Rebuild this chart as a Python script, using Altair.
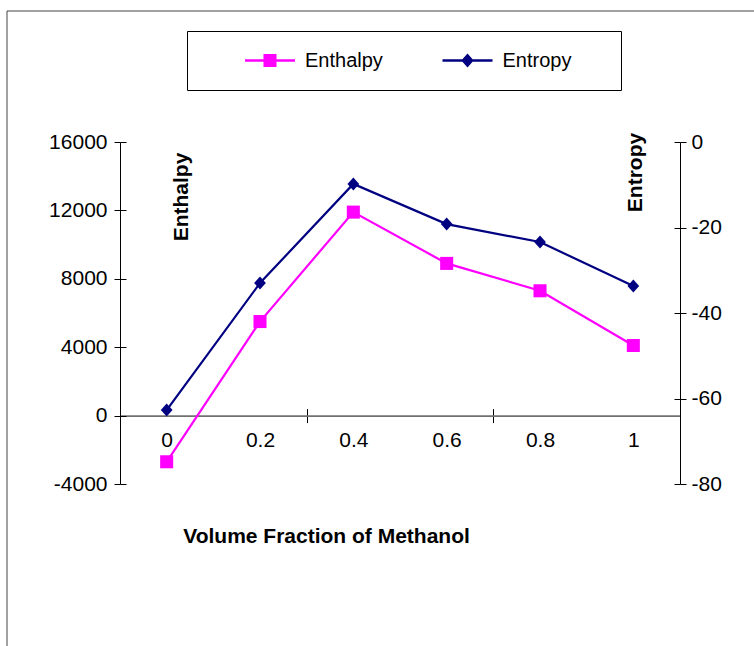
import altair as alt
import pandas as pd

# ---- data ----
fractions = [0, 0.2, 0.4, 0.6, 0.8, 1]
enthalpy = [-2700, 5500, 11900, 8900, 7300, 4100]
entropy = [-62.7, -33.0, -9.8, -19.2, -23.4, -33.7]
series = ["Enthalpy", "Entropy"]
colors = ["#FF00FF", "#000080"]
enthalpy_ticks = [-4000, 0, 4000, 8000, 12000, 16000]
entropy_ticks = [-80, -60, -40, -20, 0]
x_values = [0, 0.2, 0.3, 0.4, 0.6, 0.7, 0.8, 1]

df = pd.DataFrame({"fraction": fractions, "Enthalpy": enthalpy, "Entropy": entropy})
series_df = pd.DataFrame({"series": series})
one = pd.DataFrame({"k": [0]})

FONT = "Liberation Sans"
W, H = 560, 342
zero_offset = -(H - H * 16000 / 20000)

boundary = "datum.value == 0.3 || datum.value == 0.7"
x_scale = alt.Scale(domain=[-0.1, 1.1], nice=False, zero=False)
tick_op = {"condition": {"test": boundary, "value": 1}, "value": 0}

x_axis = alt.Axis(
    orient="bottom", offset=zero_offset, values=x_values, grid=False,
    labelExpr=f"{boundary} ? '' : toString(datum.value)",
    tickOpacity=tick_op, tickSize=7, labelPadding=7, labelFontSize=21,
    domainColor="#707070", domainWidth=1.6,
    title="Volume Fraction of Methanol", titleX=206, titleY=121,
    titleAlign="center", titleBaseline="middle", titleAngle=0,
)
x_axis_inner = alt.Axis(
    orient="bottom", offset=zero_offset - 7, values=x_values, grid=False,
    labels=False, domain=False, tickOpacity=tick_op, tickSize=7, title=None,
)
x_enc = alt.X("fraction:Q", scale=x_scale, axis=x_axis)
x_plain = alt.X("fraction:Q", scale=x_scale, axis=None)
x_inner = alt.X("fraction:Q", scale=x_scale, axis=x_axis_inner)

left_scale = alt.Scale(domain=[-4000, 16000], nice=False, zero=False)
right_scale = alt.Scale(domain=[-80, 0], nice=False, zero=False)

y_left = alt.Y(
    "Enthalpy:Q", scale=left_scale,
    axis=alt.Axis(orient="left", values=enthalpy_ticks, grid=False,
                  labelExpr="toString(datum.value)", tickSize=6, labelPadding=7,
                  title="Enthalpy", titleX=61, titleY=54.5, titleAngle=270,
                  titleAlign="center", titleBaseline="middle"),
)
y_left_inner = alt.Y(
    "Enthalpy:Q", scale=left_scale,
    axis=alt.Axis(orient="left", values=enthalpy_ticks, grid=False, labels=False,
                  domain=False, tickSize=6, offset=-6, title=None),
)
y_right = alt.Y(
    "Entropy:Q", scale=right_scale,
    axis=alt.Axis(orient="right", values=entropy_ticks, grid=False,
                  labelExpr="toString(datum.value)", tickSize=6, labelPadding=5,
                  title="Entropy", titleX=-45, titleY=30, titleAngle=270,
                  titleAlign="center", titleBaseline="middle"),
)
y_right_inner = alt.Y(
    "Entropy:Q", scale=right_scale,
    axis=alt.Axis(orient="right", values=entropy_ticks, grid=False, labels=False,
                  domain=False, tickSize=6, offset=-6, title=None),
)

square_path = "M-1,-1L1,-1L1,1L-1,1Z"
diamond_path = "M0,-1L0.9,0L0,1L-0.9,0Z"

left = alt.layer(
    alt.Chart(df).mark_line(color=colors[0], strokeWidth=2.2).encode(x=x_enc, y=y_left),
    alt.Chart(df).mark_point(shape=square_path, filled=True, color=colors[0], size=170, opacity=1).encode(x=x_enc, y=y_left),
)
right = alt.layer(
    alt.Chart(df).mark_line(color=colors[1], strokeWidth=2.2).encode(x=x_plain, y=y_right),
    alt.Chart(df).mark_point(shape=diamond_path, filled=True, color=colors[1], size=170, opacity=1).encode(x=x_plain, y=y_right),
)
# inner halves of the crossing tick marks
ticks_left = alt.Chart(df).mark_point(opacity=0).encode(x=x_inner, y=y_left_inner)
ticks_right = alt.Chart(df).mark_point(opacity=0).encode(x=x_plain, y=y_right_inner)

# legend symbols: a line with the marker on it (unit = 10 px); the leading
# move-to in the second one only widens the legend box on its right side
leg_sq = "M-2.5,-0.12L2.5,-0.12L2.5,0.12L-2.5,0.12Z M-0.65,-0.65L0.65,-0.65L0.65,0.65L-0.65,0.65Z"
leg_di = "M13.4,0 M-2.5,-0.12L2.5,-0.12L2.5,0.12L-2.5,0.12Z M0,-0.7L0.62,0L0,0.7L-0.62,0Z"

legend_def = dict(
    orient="none", legendX=67, legendY=-111, direction="horizontal", title=None,
    padding=19.5, strokeColor="black", fillColor="white",
    symbolSize=400, symbolStrokeWidth=0, symbolOffset=53.5, labelOffset=25,
    columnPadding=20.5, labelFontSize=20, labelFont=FONT, labelColor="black",
)
legend_layer = alt.Chart(series_df).transform_filter("false").mark_point(filled=True, opacity=1, size=400).encode(
    color=alt.Color("series:N",
                    scale=alt.Scale(domain=series, range=colors),
                    legend=alt.Legend(**legend_def)),
    shape=alt.Shape("series:N",
                    scale=alt.Scale(domain=series, range=[leg_sq, leg_di]),
                    legend=alt.Legend(**legend_def)),
)

frame = alt.Chart(one).mark_rect(filled=False, stroke="#444444", strokeWidth=1).encode(
    x=alt.value(-113), x2=alt.value(900), y=alt.value(-131), y2=alt.value(800)
)

chart = alt.layer(frame, legend_layer, ticks_left, ticks_right, left, right).resolve_scale(
    y="independent"
).resolve_axis(x="independent", y="independent").properties(
    width=W, height=H,
    autosize=alt.AutoSizeParams(type="none"),
    padding={"left": 120, "top": 142, "right": 74, "bottom": 162},
    background="white",
).configure_view(stroke=None).configure_axis(
    labelFont=FONT, labelFontSize=21, labelColor="black",
    titleFont=FONT, titleFontSize=21, titleFontWeight="bold", titleColor="black",
    domainColor="black", tickColor="black", domainWidth=1, tickWidth=1,
)

chart.save("out.html", embed_options={"renderer": "svg", "actions": False})
